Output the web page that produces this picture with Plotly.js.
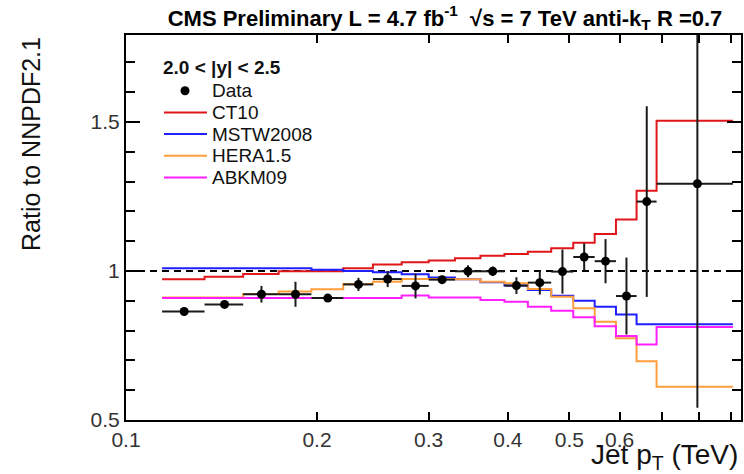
<!DOCTYPE html>
<html>
<head>
<meta charset="utf-8">
<script src="https://cdn.plot.ly/plotly-3.0.1.min.js"></script>
<style>html,body{margin:0;padding:0;background:#fff;}#chart{width:744px;height:474px;}</style>
</head>
<body>
<div id="chart"></div>
<script>
// ---- data ----
const binEdges = [0.114,0.133,0.153,0.174,0.196,0.220,0.245,0.272,0.300,0.330,0.362,0.395,0.430,0.468,0.507,0.548,0.592,0.638,0.686,0.905];
const ptCenters = [0.1235,0.143,0.1635,0.185,0.208,0.2325,0.2585,0.286,0.315,0.346,0.3785,0.4125,0.449,0.4875,0.5275,0.570,0.615,0.662,0.7955];
const dataRatio = [0.864,0.888,0.922,0.922,0.909,0.955,0.973,0.950,0.971,0.999,0.999,0.951,0.961,0.998,1.047,1.033,0.916,1.233,1.293];
const dataErr   = [0.008,0.008,0.028,0.042,0.008,0.022,0.027,0.042,0.012,0.020,0.016,0.028,0.040,0.074,0.046,0.074,0.129,0.320,0.752];
const ct10  = [0.972,0.981,0.990,0.999,0.999,1.009,1.022,1.029,1.035,1.043,1.051,1.057,1.065,1.076,1.095,1.124,1.173,1.269,1.504];
const mstw  = [1.009,1.009,1.009,1.009,1.004,1.000,0.996,0.989,0.978,0.972,0.962,0.951,0.936,0.917,0.900,0.880,0.854,0.821,0.821];
const hera  = [0.911,0.911,0.923,0.931,0.939,0.956,0.964,0.973,0.973,0.972,0.964,0.959,0.940,0.914,0.875,0.830,0.774,0.697,0.612];
const abkm  = [0.909,0.909,0.909,0.909,0.909,0.909,0.909,0.918,0.911,0.911,0.903,0.897,0.880,0.867,0.845,0.815,0.782,0.753,0.812];
const modelNames = ['CT10','MSTW2008','HERA1.5','ABKM09'];
const xTickVals = [0.1,0.2,0.3,0.4,0.5,0.6];
const xTickText = ['0.1','0.2','0.3','0.4','0.5','0.6'];
const xUnlabelledTicks = [0.7,0.8,0.9];
const yTickVals = [0.5,1,1.5];
const yTickText = ['0.5','1','1.5'];

// ---- styles ----
const modelSeries = [ct10, mstw, hera, abkm];
const modelColors = ['#e0161b','#1f1fff','#ff9e3d','#ff1fff'];
const FONT = 'Liberation Sans, Arial, Helvetica, sans-serif';

const traces = [];
modelSeries.forEach((vals, i) => {
  traces.push({
    type: 'scatter', mode: 'lines', name: modelNames[i],
    x: binEdges, y: vals.concat([vals[vals.length - 1]]),
    line: {shape: 'hv', color: modelColors[i], width: 2},
    hoverinfo: 'skip', showlegend: false
  });
});
traces.push({
  type: 'scatter', mode: 'markers', name: 'Data',
  x: ptCenters, y: dataRatio,
  marker: {color: '#000', size: 9},
  error_y: {type: 'data', array: dataErr, visible: true, color: '#1a1a1a', thickness: 2, width: 0},
  error_x: {type: 'data', symmetric: false,
            array: ptCenters.map((c, i) => binEdges[i + 1] - c),
            arrayminus: ptCenters.map((c, i) => c - binEdges[i]),
            visible: true, color: '#1a1a1a', thickness: 2, width: 0},
  showlegend: false
});

// pixel -> paper helpers (plot area: x 126..741, y 35..420)
const PL = 126, PW = 615, PB = 420, PH = 385;
const px = p => (p - PL) / PW;
const py = p => (PB - p) / PH;

const annotations = [
  {text: 'Ratio to NNPDF2.1', textangle: -90, xref: 'paper', yref: 'paper',
   x: px(31), y: py(144), xanchor: 'center', yanchor: 'middle', showarrow: false,
   font: {family: FONT, size: 25, color: '#111'}},
  {text: 'Jet p<sub>T</sub> (TeV)', xref: 'paper', yref: 'paper',
   x: px(740), y: py(456), xanchor: 'right', yanchor: 'middle', showarrow: false,
   font: {family: FONT, size: 28, color: '#111'}},
  {text: '<b>2.0 &lt; |y| &lt; 2.5</b>', xref: 'paper', yref: 'paper',
   x: px(161), y: py(67), xanchor: 'left', yanchor: 'middle', showarrow: false,
   font: {family: FONT, size: 19, color: '#111'}}
];
const shapes = [
  {type: 'line', xref: 'paper', x0: 0, x1: 1, yref: 'y', y0: 1, y1: 1, layer: 'below',
   line: {color: '#000', width: 2, dash: '7px,5px'}}
];
// legend rows
const rowY0 = 90.7, rowStep = 21.7;
const legendLabels = ['Data'].concat(modelNames);
legendLabels.forEach((lab, k) => {
  const yy = rowY0 + k * rowStep;
  annotations.push({text: lab, xref: 'paper', yref: 'paper', x: px(210), y: py(yy),
    xanchor: 'left', yanchor: 'middle', showarrow: false,
    font: {family: FONT, size: 19, color: '#111'}});
  if (k === 0) {
    shapes.push({type: 'circle', xref: 'paper', yref: 'paper', xsizemode: 'pixel', ysizemode: 'pixel',
      xanchor: px(185), yanchor: py(yy), x0: -4.5, x1: 4.5, y0: -4.5, y1: 4.5,
      fillcolor: '#000', line: {width: 0}});
  } else {
    shapes.push({type: 'line', xref: 'paper', yref: 'paper', x0: px(164), x1: px(207), y0: py(yy), y1: py(yy),
      line: {color: modelColors[k - 1], width: 2}});
  }
});

const axisCommon = {showline: true, linecolor: '#000', linewidth: 2, mirror: 'ticks',
  ticks: 'inside', tickcolor: '#000', tickwidth: 2, showgrid: false, zeroline: false,
  tickfont: {family: FONT, size: 21, color: '#333'}};

const layout = Object.assign({
  width: 744, height: 474,
  margin: {l: PL, r: 744 - PL - PW, t: 35, b: 474 - PB, pad: 0},
  paper_bgcolor: '#fff', plot_bgcolor: '#fff', showlegend: false,
  font: {family: FONT, color: '#000'},
  title: {text: '<b>CMS Preliminary L = 4.7 fb<sup>-1</sup>  √s = 7 TeV anti-k<sub>T</sub> R =0.7</b>',
          font: {family: FONT, size: 22, color: '#000'},
          xref: 'container', yref: 'container', x: 445 / 744, xanchor: 'center', y: 1 - 18 / 474, yanchor: 'middle'},
  xaxis: Object.assign({}, axisCommon, {type: 'log', range: [-1, Math.log10(0.932)],
          tickvals: xTickVals, ticktext: xTickText, ticklen: 8,
          minor: {tickvals: xUnlabelledTicks, ticks: 'inside', ticklen: 8, tickwidth: 2, tickcolor: '#000', showgrid: false}}),
  yaxis: Object.assign({}, axisCommon, {range: [0.5, 1.792], tickvals: yTickVals, ticktext: yTickText,
          ticklen: 14, minor: {dtick: 0.1, ticks: 'inside', ticklen: 9, tickwidth: 2, tickcolor: '#000', showgrid: false}}),
  annotations: annotations,
  shapes: shapes
});

Plotly.newPlot('chart', traces, layout, {displayModeBar: false, staticPlot: true});
</script>
</body>
</html>
